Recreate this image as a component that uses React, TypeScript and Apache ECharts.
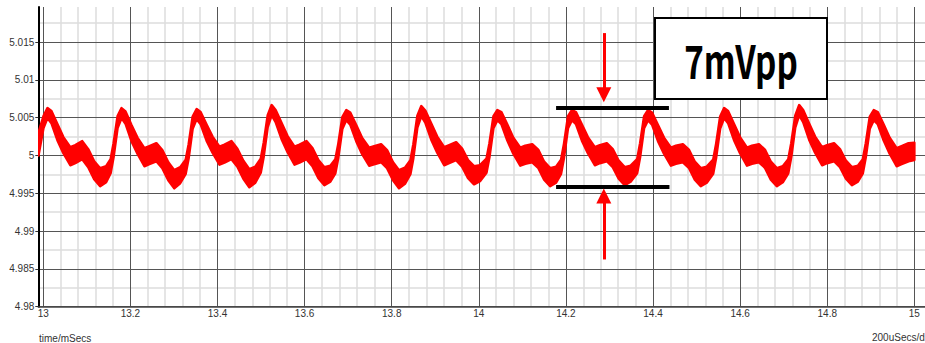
import React, { useEffect, useRef } from "react";
import * as echarts from "echarts";

// Axis ticks (ms / V)
const xMajorTicks = [13, 13.2, 13.4, 13.6, 13.8, 14, 14.2, 14.4, 14.6, 14.8, 15];
const yMajorTicks = [4.98, 4.985, 4.99, 4.995, 5, 5.005, 5.01, 5.015];
const yMinorTicks = [4.9825, 4.9875, 4.9925, 4.9975, 5.0025, 5.0075, 5.0125, 5.0175];
const xMinorSubdivisions = 5;

const xRange = [12.98858, 15.02443];
const yRange = [4.98, 5.01964];

// Ripple trace: time (ms), upper and lower edges of the noisy band (V)
const timeMs = [
  12.989, 13.0005,
  13.0096, 13.0187, 13.0324, 13.0461, 13.0621, 13.0735, 13.0895, 13.1032, 13.1169, 13.1306, 13.1443, 13.1546, 13.1614, 13.1706,
  13.1797, 13.1888, 13.2025, 13.2162, 13.2322, 13.2436, 13.2596, 13.2733, 13.287, 13.3007, 13.3144, 13.327, 13.3338, 13.343,
  13.3521, 13.3612, 13.3749, 13.3886, 13.4046, 13.416, 13.432, 13.4457, 13.4594, 13.4731, 13.4868, 13.4993, 13.5061, 13.5153,
  13.5244, 13.5335, 13.5472, 13.5609, 13.5769, 13.5883, 13.6043, 13.618, 13.6317, 13.6454, 13.6591, 13.6706, 13.6774, 13.6866,
  13.6957, 13.7048, 13.7185, 13.7322, 13.7482, 13.7596, 13.7756, 13.7893, 13.803, 13.8167, 13.8304, 13.8429, 13.8497, 13.8589,
  13.868, 13.8771, 13.8908, 13.9045, 13.9205, 13.9319, 13.9479, 13.9616, 13.9753, 13.989, 14.0027, 14.0176, 14.0244, 14.0336,
  14.0427, 14.0518, 14.0655, 14.0792, 14.0952, 14.1066, 14.1226, 14.1363, 14.15, 14.1637, 14.1774, 14.1888, 14.1956, 14.2048,
  14.2139, 14.223, 14.2367, 14.2504, 14.2664, 14.2778, 14.2938, 14.3075, 14.3212, 14.3349, 14.3486, 14.3635, 14.3703, 14.3795,
  14.3886, 14.3977, 14.4114, 14.4251, 14.4411, 14.4525, 14.4685, 14.4822, 14.4959, 14.5096, 14.5233, 14.5381, 14.5449, 14.5541,
  14.5632, 14.5723, 14.586, 14.5997, 14.6157, 14.6271, 14.6431, 14.6568, 14.6705, 14.6842, 14.6979, 14.7105, 14.7173, 14.7265,
  14.7356, 14.7447, 14.7584, 14.7721, 14.7881, 14.7995, 14.8155, 14.8292, 14.8429, 14.8566, 14.8703, 14.8817, 14.8885, 14.8977,
  14.9068, 14.9159, 14.9296, 14.9433, 14.9593, 14.9707, 14.9867, 15.0,
];
const upperV = [
  5.003, 5.00521,
  5.00627, 5.00588, 5.00415, 5.00243, 5.0011, 5.00137, 5.0019, 5.00084, 4.99924, 4.99832, 4.99858, 4.99951, 5.00163, 5.00521,
  5.00627, 5.00581, 5.00402, 5.00236, 5.00097, 5.00124, 5.00163, 5.00071, 4.99911, 4.99805, 4.99845, 4.99945, 5.0015, 5.00515,
  5.00614, 5.00575, 5.00409, 5.0025, 5.00117, 5.00144, 5.0019, 5.0009, 4.99931, 4.99818, 4.99852, 4.99958, 5.0017, 5.00534,
  5.00667, 5.00601, 5.00428, 5.00256, 5.00117, 5.00144, 5.0019, 5.00097, 4.99938, 4.99845, 4.99865, 4.99951, 5.00157, 5.00508,
  5.00601, 5.00568, 5.00402, 5.0023, 5.00104, 5.00124, 5.0015, 5.00071, 4.99911, 4.99805, 4.99838, 4.99938, 5.0015, 5.00527,
  5.00654, 5.00595, 5.00422, 5.0025, 5.0011, 5.00137, 5.00176, 5.0009, 4.99938, 4.99858, 4.99871, 4.99958, 5.00163, 5.00521,
  5.00601, 5.00575, 5.00409, 5.00236, 5.00104, 5.0013, 5.0015, 5.00077, 4.99918, 4.99832, 4.99852, 4.99945, 5.00157, 5.00521,
  5.00601, 5.00575, 5.00409, 5.00243, 5.0011, 5.00137, 5.00163, 5.00084, 4.99931, 4.99845, 4.99865, 4.99951, 5.00163, 5.00521,
  5.00601, 5.00568, 5.00402, 5.00236, 5.00104, 5.0013, 5.0015, 5.00077, 4.99918, 4.99832, 4.99852, 4.99945, 5.00157, 5.00515,
  5.00627, 5.00588, 5.00415, 5.00243, 5.00104, 5.0013, 5.0015, 5.00077, 4.99918, 4.99832, 4.99858, 4.99951, 5.00163, 5.00527,
  5.00667, 5.00601, 5.00422, 5.0025, 5.0011, 5.00137, 5.00163, 5.00084, 4.99931, 4.99845, 4.99865, 4.99951, 5.00163, 5.00515,
  5.00601, 5.00575, 5.00409, 5.00236, 5.00097, 5.00124, 5.00163, 5.0017,
];
const lowerV = [
  5.0, 5.00362,
  5.00495, 5.00428, 5.00203, 5.00031, 4.99871, 4.99898, 4.99951, 4.99845, 4.99686, 4.99593, 4.99646, 4.99765, 4.99977, 5.00362,
  5.00495, 5.00421, 5.0019, 5.00024, 4.99858, 4.99885, 4.99924, 4.99832, 4.99673, 4.99566, 4.99633, 4.99758, 4.99964, 5.00355,
  5.00481, 5.00415, 5.00197, 5.00038, 4.99878, 4.99905, 4.99951, 4.99852, 4.99693, 4.9958, 4.9964, 4.99772, 4.99984, 5.00375,
  5.00534, 5.00441, 5.00216, 5.00044, 4.99878, 4.99905, 4.99951, 4.99858, 4.99699, 4.99606, 4.99653, 4.99765, 4.99971, 5.00349,
  5.00468, 5.00408, 5.0019, 5.00018, 4.99865, 4.99885, 4.99911, 4.99832, 4.99673, 4.99566, 4.99626, 4.99752, 4.99964, 5.00368,
  5.00521, 5.00435, 5.0021, 5.00038, 4.99871, 4.99898, 4.99938, 4.99852, 4.99699, 4.99619, 4.9966, 4.99772, 4.99977, 5.00362,
  5.00468, 5.00415, 5.00197, 5.00024, 4.99865, 4.99891, 4.99911, 4.99838, 4.9968, 4.99593, 4.9964, 4.99758, 4.99971, 5.00362,
  5.00468, 5.00415, 5.00197, 5.00031, 4.99871, 4.99898, 4.99924, 4.99845, 4.99693, 4.99606, 4.99653, 4.99765, 4.99977, 5.00362,
  5.00468, 5.00408, 5.0019, 5.00024, 4.99865, 4.99891, 4.99911, 4.99838, 4.9968, 4.99593, 4.9964, 4.99758, 4.99971, 5.00355,
  5.00495, 5.00428, 5.00203, 5.00031, 4.99865, 4.99891, 4.99911, 4.99838, 4.9968, 4.99593, 4.99646, 4.99765, 4.99977, 5.00368,
  5.00534, 5.00441, 5.0021, 5.00038, 4.99871, 4.99898, 4.99924, 4.99845, 4.99693, 4.99606, 4.99653, 4.99765, 4.99977, 5.00355,
  5.00468, 5.00415, 5.00197, 5.00024, 4.99858, 4.99885, 4.99924, 4.9994,
];

// Annotation: peak-to-peak markers (ms, V)
const ppTopLine = [[14.1774, 5.00627], [14.4365, 5.00627]];
const ppBottomLine = [[14.1774, 4.99593], [14.4377, 4.99593]];
const arrowDown = [[14.287, 5.01619], [14.287, 5.00802]];
const arrowUp = [[14.287, 4.98625], [14.287, 4.99463]];
const ppText = "7mVpp";
const xAxisName = "time/mSecs";
const xDivName = "200uSecs/div";

const FONT = "'Liberation Sans', Arial, sans-serif";

export default function App() {
  const ref = useRef<HTMLDivElement>(null);
  useEffect(() => {
    document.body.style.margin = "0";
    const chart = echarts.init(ref.current!, undefined, { renderer: "svg" });

    const xMinorTicks: number[] = [];
    for (let i = 0; i < xMajorTicks.length - 1; i++) {
      const a = xMajorTicks[i];
      const b = xMajorTicks[i + 1];
      for (let k = 1; k < xMinorSubdivisions; k++) {
        xMinorTicks.push(+(a + ((b - a) * k) / xMinorSubdivisions).toFixed(4));
      }
    }

    const seg = (pts: number[][], lineStyle: any, arrow: boolean) => [
      { coord: pts[0], symbol: "none", lineStyle },
      arrow
        ? { coord: pts[1], symbol: "triangle", symbolSize: [15, 15] }
        : { coord: pts[1], symbol: "none" },
    ];

    chart.setOption({
      animation: false,
      grid: { left: 38.3, top: 7, width: 891.7, height: 299.7, containLabel: false },
      xAxis: [
        {
          type: "value",
          min: xRange[0],
          max: xRange[1],
          z: 1,
          axisLine: { show: true, onZero: false, lineStyle: { color: "#444", width: 1.5 } },
          axisTick: { show: false, customValues: xMajorTicks },
          axisLabel: {
            customValues: xMajorTicks,
            color: "#333",
            fontSize: 10,
            fontFamily: FONT,
            margin: 2,
          },
          splitLine: { show: true, lineStyle: { color: "#555", width: 1 } },
        },
        {
          type: "value",
          min: xRange[0],
          max: xRange[1],
          z: 0,
          position: "bottom",
          axisLine: { show: false },
          axisTick: { show: false, customValues: xMinorTicks },
          axisLabel: { show: false },
          splitLine: { show: true, lineStyle: { color: "#dcdcdc", width: 1.5 } },
        },
      ],
      yAxis: [
        {
          type: "value",
          min: yRange[0],
          max: yRange[1],
          z: 1,
          axisLine: { show: true, onZero: false, lineStyle: { color: "#000", width: 2 } },
          axisTick: { show: true, length: 3, customValues: yMajorTicks, lineStyle: { color: "#333" } },
          axisLabel: {
            customValues: yMajorTicks,
            color: "#333",
            fontSize: 10,
            fontFamily: FONT,
            margin: 4,
          },
          splitLine: { show: true, lineStyle: { color: "#555", width: 1 } },
        },
        {
          type: "value",
          min: yRange[0],
          max: yRange[1],
          z: 0,
          position: "left",
          axisLine: { show: false },
          axisTick: { show: false, customValues: yMinorTicks },
          axisLabel: { show: false },
          splitLine: { show: true, lineStyle: { color: "#dcdcdc", width: 1.5 } },
        },
      ],
      series: [
        {
          type: "custom",
          coordinateSystem: "cartesian2d",
          xAxisIndex: 0,
          yAxisIndex: 0,
          silent: true,
          z: 3,
          clip: true,
          data: [[timeMs[0], upperV[0]]],
          renderItem: (_params: any, api: any) => {
            const pts: number[][] = [];
            for (let i = 0; i < timeMs.length; i++) pts.push(api.coord([timeMs[i], upperV[i]]));
            for (let i = timeMs.length - 1; i >= 0; i--) pts.push(api.coord([timeMs[i], lowerV[i]]));
            return {
              type: "polygon",
              shape: { points: pts },
              style: { fill: "#ff0000", stroke: "#ff0000", lineWidth: 2.5, lineJoin: "round" },
            };
          },
        },
        {
          type: "line",
          data: [],
          z: 5,
          markLine: {
            silent: true,
            animation: false,
            label: { show: false },
            lineStyle: { type: "solid" },
            data: [
              seg(ppTopLine, { color: "#000", width: 4, type: "solid" }, false),
              seg(ppBottomLine, { color: "#000", width: 4, type: "solid" }, false),
              seg(arrowDown, { color: "#ff0000", width: 3, type: "solid" }, true),
              seg(arrowUp, { color: "#ff0000", width: 3, type: "solid" }, true),
            ],
          },
        },
      ],
      graphic: [
        {
          type: "rect",
          z: 10,
          shape: { x: 655, y: 18, width: 172, height: 81 },
          style: { fill: "#fff", stroke: "#000", lineWidth: 2 },
        },
        {
          type: "text",
          z: 11,
          x: 741,
          y: 59,
          scaleX: 0.72,
          style: {
            text: ppText,
            x: 0,
            y: 0,
            align: "center",
            verticalAlign: "middle",
            fill: "#000",
            font: "bold 46px 'Noto Sans CJK JP', 'Noto Sans', sans-serif",
          },
        },
        {
          type: "text",
          z: 11,
          x: 39,
          y: 338,
          style: {
            text: xAxisName,
            verticalAlign: "middle",
            fill: "#333",
            font: `10px ${FONT}`,
          },
        },
        {
          type: "text",
          z: 11,
          x: 872,
          y: 337,
          style: {
            text: xDivName,
            verticalAlign: "middle",
            fill: "#333",
            font: `10px ${FONT}`,
          },
        },
      ],
    });
    return () => chart.dispose();
  }, []);
  return <div ref={ref} style={{ width: 925, height: 343 }} />;
}
